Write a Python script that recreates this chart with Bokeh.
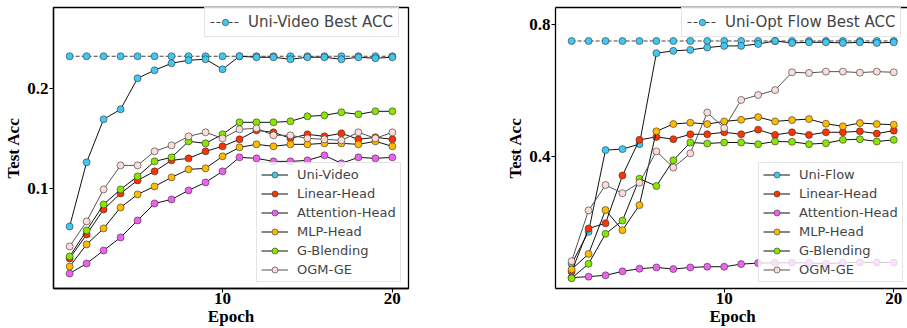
from bokeh.plotting import figure
from bokeh.models import (Range1d, FixedTicker, Legend, LegendItem, LinearAxis,
                          CustomJSTickFormatter)
from bokeh.layouts import row
from bokeh.embed import file_html
from bokeh.resources import INLINE

epochs = [1, 2, 3, 4, 5, 6, 7, 8, 9, 10, 11, 12, 13, 14, 15, 16, 17, 18, 19, 20]

# ---- left panel (video) ----
video_best = [0.232, 0.232, 0.232, 0.232, 0.232, 0.232, 0.232, 0.232, 0.232, 0.232,
              0.232, 0.232, 0.232, 0.232, 0.232, 0.232, 0.232, 0.232, 0.232, 0.232]
uni_video = [0.062, 0.126, 0.169, 0.179, 0.210, 0.218, 0.225, 0.228, 0.229, 0.219,
             0.232, 0.231, 0.231, 0.229, 0.231, 0.231, 0.229, 0.231, 0.230, 0.231]
v_linear = [0.030, 0.054, 0.079, 0.095, 0.108, 0.117, 0.128, 0.130, 0.137, 0.142,
            0.149, 0.158, 0.156, 0.150, 0.154, 0.152, 0.155, 0.149, 0.151, 0.149]
v_attention = [0.015, 0.025, 0.038, 0.051, 0.068, 0.085, 0.089, 0.098, 0.106, 0.117,
               0.131, 0.130, 0.127, 0.127, 0.128, 0.133, 0.125, 0.131, 0.130, 0.131]
v_mlp = [0.022, 0.044, 0.060, 0.081, 0.094, 0.102, 0.111, 0.119, 0.120, 0.132,
         0.141, 0.144, 0.142, 0.144, 0.144, 0.145, 0.145, 0.144, 0.147, 0.142]
v_gblend = [0.032, 0.058, 0.084, 0.099, 0.112, 0.127, 0.131, 0.147, 0.145, 0.154,
            0.166, 0.166, 0.166, 0.167, 0.172, 0.173, 0.176, 0.174, 0.177, 0.177]
v_ogm = [0.042, 0.067, 0.099, 0.123, 0.123, 0.137, 0.143, 0.152, 0.156, 0.150,
         0.159, 0.160, 0.153, 0.153, 0.150, 0.149, 0.148, 0.156, 0.150, 0.156]

# ---- right panel (optical flow) ----
flow_best = [0.751, 0.751, 0.751, 0.751, 0.751, 0.751, 0.751, 0.751, 0.751, 0.751,
             0.751, 0.751, 0.751, 0.751, 0.751, 0.751, 0.751, 0.751, 0.751, 0.751]
uni_flow = [0.075, 0.172, 0.420, 0.423, 0.438, 0.714, 0.721, 0.724, 0.731, 0.736,
            0.736, 0.742, 0.751, 0.745, 0.747, 0.747, 0.745, 0.747, 0.745, 0.747]
f_linear = [0.051, 0.182, 0.198, 0.343, 0.451, 0.460, 0.453, 0.468, 0.468, 0.474,
            0.468, 0.482, 0.466, 0.474, 0.466, 0.474, 0.474, 0.477, 0.470, 0.479]
f_attention = [0.033, 0.036, 0.040, 0.052, 0.060, 0.064, 0.059, 0.064, 0.066, 0.066,
               0.074, 0.077, 0.078, 0.078, 0.078, 0.075, 0.078, 0.079, 0.079, 0.079]
f_mlp = [0.058, 0.105, 0.238, 0.177, 0.253, 0.477, 0.499, 0.503, 0.499, 0.507,
         0.512, 0.520, 0.507, 0.511, 0.514, 0.500, 0.492, 0.502, 0.499, 0.497]
f_gblend = [0.031, 0.075, 0.166, 0.206, 0.333, 0.311, 0.389, 0.443, 0.440, 0.443,
            0.443, 0.438, 0.446, 0.445, 0.438, 0.441, 0.451, 0.453, 0.446, 0.451]
f_ogm = [0.083, 0.237, 0.314, 0.289, 0.321, 0.416, 0.367, 0.410, 0.534, 0.487,
         0.572, 0.587, 0.602, 0.656, 0.654, 0.658, 0.658, 0.655, 0.658, 0.656]

method_names = ["Linear-Head", "Attention-Head", "MLP-Head", "G-Blending", "OGM-GE"]
uni_color = "#40c8f0"
method_colors = ["#ff3300", "#f060f0", "#ffbb00", "#88e600", "#fcdcd8"]

SERIF = "Liberation Serif"
SANS = "DejaVu Sans"


def tick_style(ax):
    ax.major_label_text_font = SERIF
    ax.major_label_text_font_style = "bold"
    ax.major_label_text_font_size = "17px"
    ax.major_label_text_color = "black"
    ax.minor_tick_out = 0
    ax.minor_tick_in = 0
    ax.major_tick_in = 0


def make_panel(width, x_end, y_end, yticks, best, best_label, uni, uni_label,
               series, border_left, border_right, outline, upper_x, lower_x):
    p = figure(width=width, height=328,
               x_range=Range1d(0.05, x_end), y_range=Range1d(0.0, y_end),
               output_backend="svg", toolbar_location=None,
               min_border_left=border_left, min_border_right=border_right,
               min_border_top=7, min_border_bottom=37)
    p.xgrid.visible = False
    p.ygrid.visible = False
    p.background_fill_color = "white"
    p.border_fill_color = "white"
    for ax in p.xaxis + p.yaxis:
        tick_style(ax)
        ax.major_tick_out = 4
        ax.major_tick_line_color = "black"
        ax.major_tick_line_width = 1
        ax.axis_line_color = "black"
        ax.axis_line_width = 1.3
    p.xaxis.ticker = FixedTicker(ticks=[10, 20])
    p.yaxis.ticker = FixedTicker(ticks=yticks)
    p.xaxis.major_label_standoff = 0
    p.yaxis.major_label_standoff = 1

    # axis titles, drawn as the single label of an extra, line-less axis
    xt = LinearAxis(ticker=FixedTicker(ticks=[10.5]),
                    formatter=CustomJSTickFormatter(code="return 'Epoch';"),
                    axis_line_color=None, major_tick_out=0, major_label_standoff=0)
    tick_style(xt)
    p.add_layout(xt, "below")
    yt = LinearAxis(ticker=FixedTicker(ticks=[y_end / 2]),
                    formatter=CustomJSTickFormatter(code="return 'Test Acc';"),
                    axis_line_color=None, major_tick_out=0,
                    major_label_standoff=2, major_label_orientation="vertical")
    tick_style(yt)
    p.add_layout(yt, "left")

    if outline:
        p.outline_line_color = "black"
        p.outline_line_width = 1.3
    else:
        p.outline_line_color = None
        top = LinearAxis(ticker=FixedTicker(ticks=[]), major_tick_out=0, major_tick_in=0,
                         minor_tick_out=0, minor_tick_in=0, major_label_text_font_size="0px",
                         axis_line_color="black", axis_line_width=1.3)
        p.add_layout(top, "above")

    bl = p.line(epochs, best, line_color="#444444", line_width=1, line_dash="4 2")
    bs = p.scatter(epochs, best, size=7, fill_color=uni_color, line_color="#333333", line_width=0.6)

    items = []
    ul = p.line(epochs, uni, line_color="#111111", line_width=1)
    us = p.scatter(epochs, uni, size=7, fill_color=uni_color, line_color="#333333", line_width=0.6)
    items.append(LegendItem(label=uni_label, renderers=[ul, us]))
    for name, vals, col in zip(method_names, series, method_colors):
        lc = "#555555" if name == "OGM-GE" else "#111111"
        ln = p.line(epochs, vals, line_color=lc, line_width=1)
        sc = p.scatter(epochs, vals, size=7, fill_color=col, line_color="#333333", line_width=0.6)
        items.append(LegendItem(label=name, renderers=[ln, sc]))

    upper = Legend(items=[LegendItem(label=best_label, renderers=[bl, bs])],
                   location=(upper_x, 251),
                   label_text_font=SANS, label_text_font_size="15px",
                   glyph_width=30, glyph_height=16, label_height=16, label_standoff=8,
                   padding=5, spacing=0, margin=0,
                   border_line_color="#cccccc", border_line_width=1,
                   background_fill_color="white", background_fill_alpha=0.8)
    lower = Legend(items=items, location=(lower_x, 6),
                   label_text_font=SANS, label_text_font_size="13px",
                   glyph_width=27, glyph_height=15, label_height=15, label_standoff=9,
                   padding=4, spacing=4, margin=0,
                   border_line_color="#cccccc", border_line_width=1,
                   background_fill_color="white", background_fill_alpha=0.8)
    p.add_layout(upper, "center")
    p.add_layout(lower, "center")
    return p


p1 = make_panel(502, 20.95, 0.2807, [0.1, 0.2], video_best, "Uni-Video Best ACC",
                uni_video, "Uni-Video",
                [v_linear, v_attention, v_mlp, v_gblend, v_ogm], 52, 94, True, 151, 203)
p2 = make_panel(405, 20.81, 0.8526, [0.4, 0.8], flow_best, "Uni-Opt Flow Best ACC",
                uni_flow, "Uni-Flow",
                [f_linear, f_attention, f_mlp, f_gblend, f_ogm], 52, 0, False, 126, 203)

layout = row(p1, p2)
open("out.html", "w").write(file_html(layout, INLINE))
